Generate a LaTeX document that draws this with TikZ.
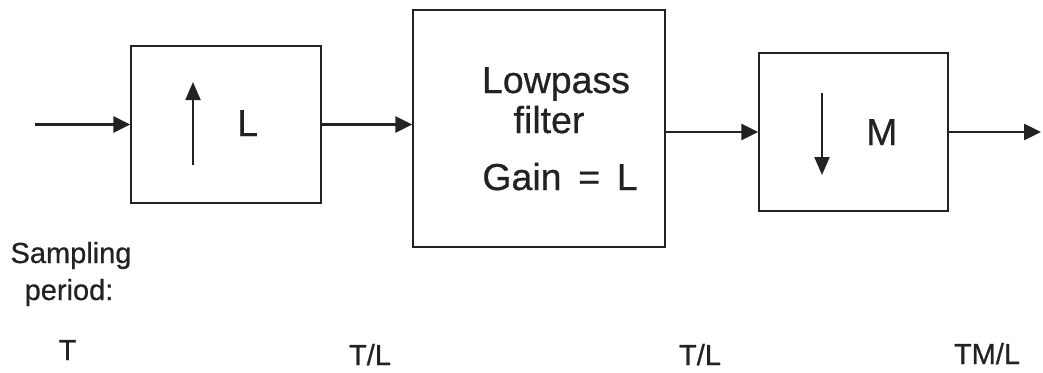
\documentclass[tikz,border=0pt]{standalone}
\usepackage{fontspec}
\setmainfont{Liberation Sans}
\newfontfamily\heavy{Liberation Sans}[FakeBold=0.6]
\usetikzlibrary{arrows.meta}
\definecolor{ink}{HTML}{222222}
\tikzset{
  blk/.style={draw=ink, line width=1.3pt, rectangle, inner sep=0pt},
  conn/.style={draw=ink, line width=2.5pt, -{Triangle[length=17pt,width=16pt]}},
  rate/.style={draw=ink, line width=2pt, -{Triangle[length=18pt,width=15pt]}},
  big/.style={text=ink, inner sep=0pt, font=\heavy\fontsize{37.5}{40}\selectfont},
  lab/.style={text=ink, inner sep=0pt, font=\heavy\fontsize{29}{32}\selectfont},
}
\begin{document}
\begin{tikzpicture}[x=1pt,y=-1pt]
\useasboundingbox (0,0) rectangle (1043,372);
% blocks
\node[blk, minimum width=190pt, minimum height=157pt] (b1) at (226,124.5) {};
\node[blk, minimum width=252pt, minimum height=237pt] (b2) at (539,128.5) {};
\node[blk, minimum width=189pt, minimum height=158pt] (b3) at (853.5,132) {};
% contents of block 1
\coordinate (u1) at (193,165);
\coordinate (u2) at (193,82);
\draw[rate] (u1) -- (u2);
\node[big, anchor=base west] (tl) at (237,136) {L};
% contents of block 2
\node[big, anchor=base] (lp1) at (556,93) {Lowpass};
\node[big, anchor=base] (lp2) at (549,133) {filter};
\node[big, anchor=base] (lp3) at (560,190) {Gain \,=\, L};
% contents of block 3
\coordinate (d1) at (822,93);
\coordinate (d2) at (822,175);
\draw[rate] (d1) -- (d2);
\node[big, anchor=base west] (tm) at (866,145) {M};
% connectors
\coordinate (in) at (35,124.5);
\draw[conn] (in) -- (b1.west);
\draw[conn] (b1.east) -- (b1.east -| b2.west);
\draw[conn] (b3.west -| b2.east) -- (b3.west);
\coordinate (out) at (1041,132);
\draw[conn] (b3.east) -- (out);
% labels
\node[lab, anchor=base] (s1) at (71,263) {Sampling};
\node[lab, anchor=base] (s2) at (69,300) {period:};
\node[lab, anchor=base] (r1) at (67.5,360) {T};
\node[lab, anchor=base] (r2) at (370,365) {T/L};
\node[lab, anchor=base] (r3) at (700,365) {T/L};
\node[lab, anchor=base] (r4) at (987,364) {TM/L};
\end{tikzpicture}
\end{document}
